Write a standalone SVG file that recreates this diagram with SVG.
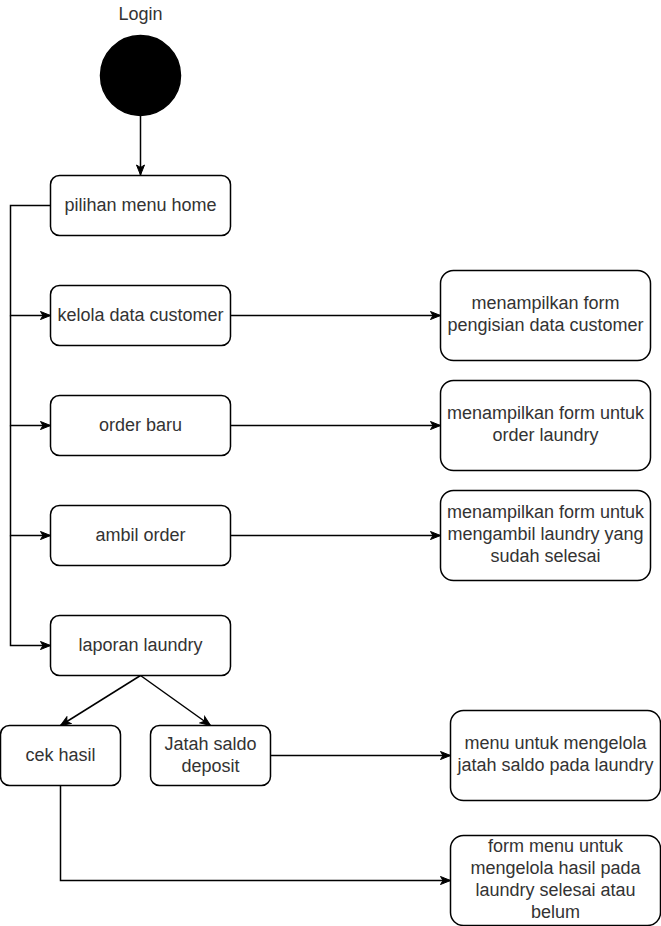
<svg xmlns="http://www.w3.org/2000/svg" width="661" height="926" viewBox="0 0 661 926">
<style>
.box{fill:#fff;stroke:#000;stroke-width:1.5}
.t{font-family:"Liberation Sans",Arial,sans-serif;font-size:18px;fill:#333;text-anchor:middle}
.e{fill:none;stroke:#000;stroke-width:1.5}
</style>
<defs>
<marker id="arr" markerUnits="userSpaceOnUse" markerWidth="12" markerHeight="10" viewBox="0 0 12 10" refX="11" refY="5" orient="auto">
<path d="M1,1 L11,5 L1,9 L3.5,5 Z" fill="#000" stroke="#000" stroke-width="1"/>
</marker>
</defs>
<rect width="661" height="926" fill="#fff"/>
<g id="start">
<text class="t" x="140.5" y="20">Login</text>
<circle cx="140.5" cy="75.5" r="40" fill="#000" stroke="#000" stroke-width="1.5"/>
</g>
<g id="connectors">
<path class="e" d="M140.5,116 L140.5,175" marker-end="url(#arr)"/>
<path class="e" d="M50.5,205.5 L10.5,205.5 L10.5,315.5 L50.5,315.5" marker-end="url(#arr)"/>
<path class="e" d="M10.5,315.5 L10.5,425.5 L50.5,425.5" marker-end="url(#arr)"/>
<path class="e" d="M10.5,425.5 L10.5,535.5 L50.5,535.5" marker-end="url(#arr)"/>
<path class="e" d="M10.5,535.5 L10.5,645.5 L50.5,645.5" marker-end="url(#arr)"/>
<path class="e" d="M230.5,315.5 L440.5,315.5" marker-end="url(#arr)"/>
<path class="e" d="M230.5,425.5 L440.5,425.5" marker-end="url(#arr)"/>
<path class="e" d="M230.5,535.5 L440.5,535.5" marker-end="url(#arr)"/>
<path class="e" d="M140.5,675.5 L60.5,725.5" marker-end="url(#arr)"/>
<path class="e" d="M140.5,675.5 L210.5,725.5" marker-end="url(#arr)"/>
<path class="e" d="M270.5,755.5 L450.5,755.5" marker-end="url(#arr)"/>
<path class="e" d="M60.5,785.5 L60.5,880.5 L450.5,880.5" marker-end="url(#arr)"/>
</g>
<g id="pilihan"><rect class="box" x="50.5" y="175.5" width="180" height="60" rx="9"/><text class="t" x="140.5" y="210.5">pilihan menu home</text></g>
<g id="kelola"><rect class="box" x="50.5" y="285.5" width="180" height="60" rx="9"/><text class="t" x="140.5" y="320.5">kelola data customer</text></g>
<g id="order"><rect class="box" x="50.5" y="395.5" width="180" height="60" rx="9"/><text class="t" x="140.5" y="430.5">order baru</text></g>
<g id="ambil"><rect class="box" x="50.5" y="505.5" width="180" height="60" rx="9"/><text class="t" x="140.5" y="540.5">ambil order</text></g>
<g id="laporan"><rect class="box" x="50.5" y="615.5" width="180" height="60" rx="9"/><text class="t" x="140.5" y="650.5">laporan laundry</text></g>
<g id="cek"><rect class="box" x="0.5" y="725.5" width="120" height="60" rx="9"/><text class="t" x="60.5" y="760.5">cek hasil</text></g>
<g id="jatah"><rect class="box" x="150.5" y="725.5" width="120" height="60" rx="9"/><text class="t" x="210.5" y="749.5">Jatah saldo</text><text class="t" x="210.5" y="771.5">deposit</text></g>
<g id="formCustomer"><rect class="box" x="440.5" y="270.5" width="210" height="90" rx="13"/><text class="t" x="545.5" y="308.5">menampilkan form</text><text class="t" x="545.5" y="330.5">pengisian data customer</text></g>
<g id="formOrder"><rect class="box" x="440.5" y="380.5" width="210" height="90" rx="13"/><text class="t" x="545.5" y="418.5">menampilkan form untuk</text><text class="t" x="545.5" y="440.5">order laundry</text></g>
<g id="formAmbil"><rect class="box" x="440.5" y="490.5" width="210" height="90" rx="13"/><text class="t" x="545.5" y="518">menampilkan form untuk</text><text class="t" x="545.5" y="540">mengambil laundry yang</text><text class="t" x="545.5" y="562">sudah selesai</text></g>
<g id="menuSaldo"><rect class="box" x="450.5" y="710.5" width="210" height="90" rx="13"/><text class="t" x="555.5" y="748.5">menu untuk mengelola</text><text class="t" x="555.5" y="770.5">jatah saldo pada laundry</text></g>
<g id="formHasil"><rect class="box" x="450.5" y="835.5" width="210" height="90" rx="13"/><text class="t" x="555.5" y="852">form menu untuk</text><text class="t" x="555.5" y="874">mengelola hasil pada</text><text class="t" x="555.5" y="896">laundry selesai atau</text><text class="t" x="555.5" y="918">belum</text></g>
</svg>
